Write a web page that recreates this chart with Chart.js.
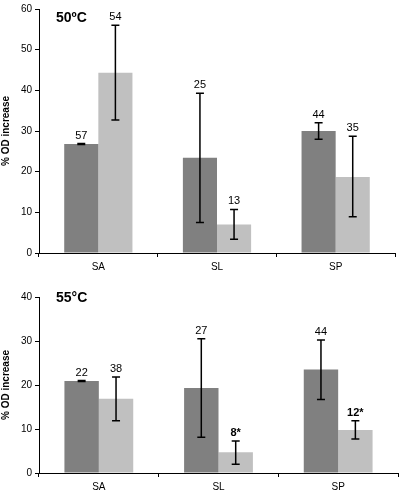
<!DOCTYPE html>
<html><head><meta charset="utf-8">
<script src="https://cdn.jsdelivr.net/npm/chart.js@4"></script>
<style>html,body{margin:0;padding:0;background:#fff;width:400px;height:492px;overflow:hidden;position:relative}
canvas{position:absolute;left:0}</style></head><body>
<canvas id="c1" width="400" height="275" style="top:0"></canvas>
<canvas id="c2" width="400" height="222" style="top:270px"></canvas>
<script>
const categories = ["SA", "SL", "SP"];
// 50 °C panel
const dark50 = [26.8, 23.4, 30.0];
const dark50Lo = [26.7, 7.5, 28.0];
const dark50Hi = [26.9, 39.3, 32.0];
const dark50Labels = ["57", "25", "44"];
const light50 = [44.3, 7.0, 18.7];
const light50Lo = [32.7, 3.4, 8.9];
const light50Hi = [56.0, 10.7, 28.7];
const light50Labels = ["54", "13", "35"];
// 55 °C panel
const dark55 = [20.9, 19.3, 23.5];
const dark55Lo = [20.8, 8.1, 16.7];
const dark55Hi = [21.0, 30.5, 30.2];
const dark55Labels = ["22", "27", "44"];
const light55 = [16.9, 4.7, 9.8];
const light55Lo = [11.9, 2.0, 7.7];
const light55Hi = [21.8, 7.3, 11.9];
const light55Labels = ["38", "8*", "12*"];

const FONT = '"Liberation Sans", Arial, sans-serif';

const errPlugin = {
  id: 'errbars',
  afterDatasetsDraw(chart) {
    const ctx = chart.ctx, y = chart.scales.y;
    chart.data.datasets.forEach((ds, di) => {
      const meta = chart.getDatasetMeta(di);
      meta.data.forEach((bar, i) => {
        const hi = y.getPixelForValue(ds.errHi[i]);
        const lo = y.getPixelForValue(ds.errLo[i]);
        ctx.save();
        ctx.strokeStyle = '#000';
        ctx.lineWidth = 1.5;
        ctx.beginPath();
        ctx.moveTo(bar.x, hi); ctx.lineTo(bar.x, lo);
        ctx.moveTo(bar.x - 4, hi); ctx.lineTo(bar.x + 4, hi);
        ctx.moveTo(bar.x - 4, lo); ctx.lineTo(bar.x + 4, lo);
        ctx.stroke();
        const lab = ds.nLabels[i];
        ctx.fillStyle = '#000';
        ctx.font = (lab.indexOf('*') >= 0 ? 'bold ' : '') + '11px ' + FONT;
        ctx.textAlign = 'center';
        ctx.textBaseline = 'alphabetic';
        ctx.fillText(lab, bar.x, hi - 5);
        ctx.restore();
      });
    });
  }
};

const panelTitle = {
  id: 'panelTitle',
  afterDraw(chart, args, opts) {
    const ctx = chart.ctx;
    ctx.save();
    ctx.fillStyle = '#000';
    ctx.font = 'bold 14px ' + FONT;
    ctx.textAlign = 'left';
    ctx.textBaseline = 'middle';
    ctx.fillText(opts.text, chart.chartArea.left + opts.dx, chart.chartArea.top + opts.dy);
    ctx.restore();
  }
};

function makeChart(id, cfg) {
  return new Chart(document.getElementById(id), {
    type: 'bar',
    data: {
      labels: categories,
      datasets: [
        { data: cfg.dark, errLo: cfg.darkLo, errHi: cfg.darkHi, nLabels: cfg.darkLabels,
          backgroundColor: '#808080', borderWidth: 0 },
        { data: cfg.light, errLo: cfg.lightLo, errHi: cfg.lightHi, nLabels: cfg.lightLabels,
          backgroundColor: '#c0c0c0', borderWidth: 0 }
      ]
    },
    options: {
      responsive: false,
      animation: false,
      events: [],
      layout: { padding: { left: 0, right: cfg.padRight, top: cfg.padTop, bottom: 0 } },
      plugins: {
        legend: { display: false },
        tooltip: { enabled: false },
        title: { display: false },
        panelTitle: { text: cfg.title, dx: 17, dy: cfg.titleDy }
      },
      datasets: { bar: { categoryPercentage: 0.575, barPercentage: 1.0 } },
      scales: {
        x: {
          afterFit(s) { s.height = cfg.xHeight; },
          grid: { offset: true, drawOnChartArea: false, drawTicks: true, tickLength: 4, color: '#000', lineWidth: 1 },
          border: { color: '#000', width: 1 },
          ticks: { color: '#000', font: { family: FONT, size: 10 }, padding: 4 }
        },
        y: {
          min: 0, max: cfg.max,
          afterFit(s) { s.width = 39; },
          grid: { drawOnChartArea: false, drawTicks: true, tickLength: 4, color: '#000', lineWidth: 1 },
          border: { color: '#000', width: 1 },
          ticks: { stepSize: 10, color: '#000', font: { family: FONT, size: 10 }, padding: 3 },
          title: { display: true, text: '% OD increase', color: '#000', font: { family: FONT, size: 10, weight: 'bold' }, padding: { top: 0, bottom: 0 } }
        }
      }
    },
    plugins: [errPlugin, panelTitle]
  });
}

makeChart('c1', {
  dark: dark50, darkLo: dark50Lo, darkHi: dark50Hi, darkLabels: dark50Labels,
  light: light50, lightLo: light50Lo, lightHi: light50Hi, lightLabels: light50Labels,
  max: 60, title: '50ºC', titleDy: 9, padRight: 5, padTop: 4, xHeight: 22
});
makeChart('c2', {
  dark: dark55, darkLo: dark55Lo, darkHi: dark55Hi, darkLabels: dark55Labels,
  light: light55, lightLo: light55Lo, lightHi: light55Hi, lightLabels: light55Labels,
  max: 40, title: '55°C', titleDy: 1, padRight: 2, padTop: 27, xHeight: 19
});
</script>
</body></html>
